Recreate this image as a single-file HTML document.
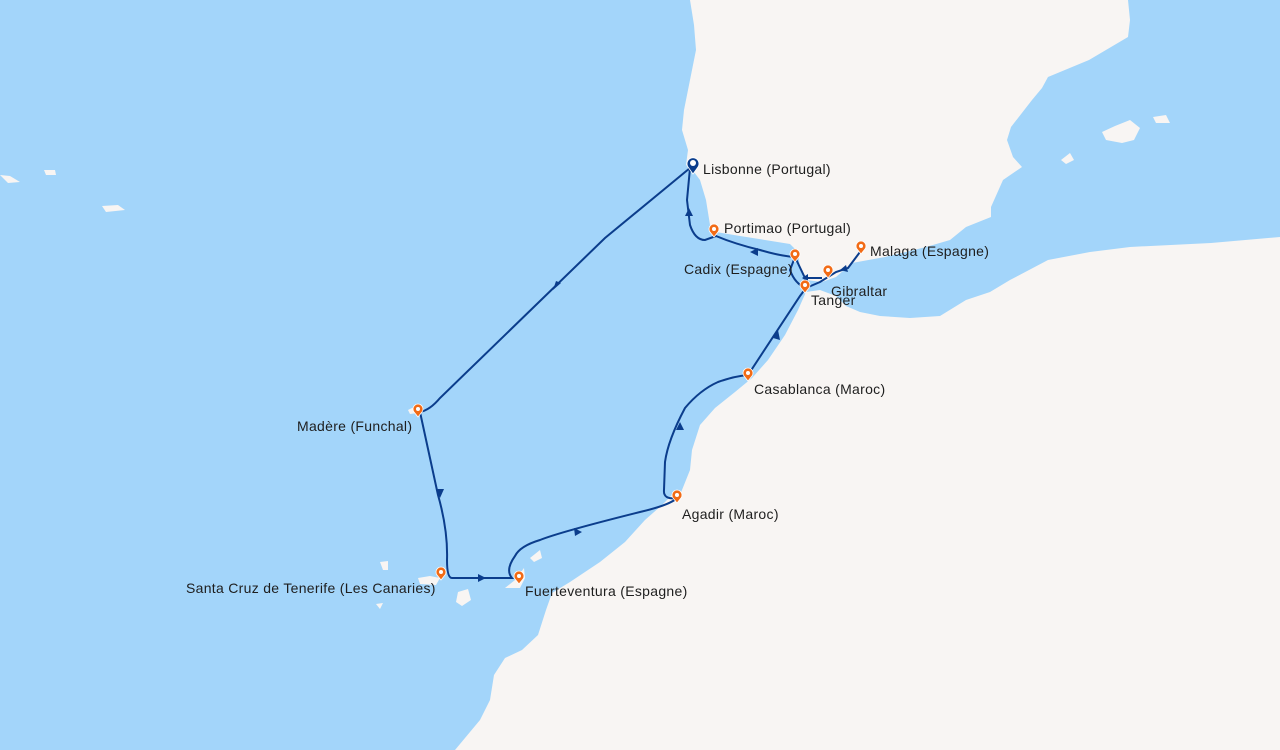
<!DOCTYPE html>
<html><head><meta charset="utf-8"><style>
html,body{margin:0;padding:0;width:1280px;height:750px;overflow:hidden;background:#a3d5fa}
svg{display:block}
text{font-family:"Liberation Sans",sans-serif;font-size:14px;fill:#1e1e1e;letter-spacing:0.3px}
</style></head><body>
<svg width="1280" height="750" viewBox="0 0 1280 750">
<rect width="1280" height="750" fill="#a3d5fa"/>
<!-- Iberia -->
<path fill="#f8f5f3" d="M690,0 L694,25 L696,50 L690,80 L684,110 L682,130 L688,150 L686,165 L694,172 L700,180 L706,200 L710,225 L716,232 L740,236 L765,240 L790,244 L798,252 L800,268 L806,280 L822,282 L836,277 L852,263 L885,257 L926,247 L950,240 L966,227 L991,217 L991,207 L1003,180 L1022,167 L1013,157 L1007,140 L1011,127 L1032,100 L1042,88 L1048,77 L1089,60 L1128,37 L1130,20 L1128,0 Z"/>
<!-- Africa -->
<path fill="#f8f5f3" d="M455,750 L480,720 L490,700 L494,675 L505,658 L522,650 L538,635 L546,610 L552,593 L570,582 L600,562 L625,542 L645,520 L662,505 L672,495 L680,495 L690,470 L692,450 L700,425 L715,408 L735,392 L752,378 L768,360 L785,335 L798,310 L806,292 L820,290 L836,296 L846,306 L860,312 L880,316 L910,318 L940,316 L966,300 L990,292 L1010,280 L1048,260 L1090,252 L1130,247 L1211,243 L1280,237 L1280,750 Z"/>
<!-- Balearics -->
<path fill="#f8f5f3" d="M1102,132 L1115,126 L1130,120 L1140,128 L1134,140 L1122,143 L1106,140 Z"/>
<path fill="#f8f5f3" d="M1153,117 L1166,115 L1170,123 L1156,123 Z"/>
<path fill="#f8f5f3" d="M1061,160 L1070,153 L1074,160 L1066,164 Z"/>
<!-- Atlantic islands -->
<path fill="#f8f5f3" d="M102,206 L118,205 L125,210 L106,212 Z"/>
<path fill="#f8f5f3" d="M0,175 L10,176 L20,182 L8,183 Z"/>
<path fill="#f8f5f3" d="M44,170 L55,170 L56,175 L46,175 Z"/>
<path fill="#f8f5f3" d="M408,410 L416,406 L418,413 L410,414 Z"/>
<path fill="#f8f5f3" d="M418,578 L430,576 L440,578 L436,585 L420,584 Z"/>
<path fill="#f8f5f3" d="M458,592 L468,589 L471,600 L462,606 L456,602 Z"/>
<path fill="#f8f5f3" d="M380,562 L388,561 L388,570 L383,570 Z"/>
<path fill="#f8f5f3" d="M376,604 L383,603 L380,609 Z"/>
<path fill="#f8f5f3" d="M505,588 L515,580 L524,568 L525,578 L520,588 Z"/>
<path fill="#f8f5f3" d="M530,558 L540,550 L542,558 L534,562 Z"/>
<!-- Route -->
<g fill="none" stroke="#0b3d8c" stroke-width="2">
<path d="M690,168 L605,238 L440,398 Q430,410 420,412 L438,495 Q448,530 447,560 Q447,578 452,578 L512,578 Q505,570 515,556 Q520,546 540,540 Q560,532 640,512 Q670,505 677,498 Q663,500 664,490 L665,462 Q668,440 685,408 Q700,390 718,382 Q735,376 748,375 L800,296 L806,288 Q795,284 790,270 L795,257 Q780,256 760,250 Q735,244 716,236 L705,240 Q695,240 690,225 L687,200 L690,168"/>
<path d="M806,288 L820,282 L836,272 L848,268 L860,252"/>
<path d="M795,257 L805,278 L822,278"/>
</g>
<g fill="#0b3d8c">
<polygon points="553,290 561,283 556,281"/>
<polygon points="440,498 436,489 444,489"/>
<polygon points="486,578 478,574 478,582"/>
<polygon points="582,532 574,528 575,536"/>
<polygon points="680,422 676,430 684,430"/>
<polygon points="778,330 773,338 780,340"/>
<polygon points="750,252 758,248 758,256"/>
<polygon points="689,208 685,216 693,216"/>
<polygon points="846,265 840,270 848,272"/>
<polygon points="802,278 808,274 808,282"/>
</g>
<!-- Markers -->
<g fill="#f26b16" stroke="#fff" stroke-width="0.8">
<g transform="translate(418,411)"><path d="M0,6 L-4,1 A5,5 0 1 1 4,1 Z"/><circle cy="-2" r="2" fill="#fff" stroke="none"/></g>
<g transform="translate(441,574)"><path d="M0,6 L-4,1 A5,5 0 1 1 4,1 Z"/><circle cy="-2" r="2" fill="#fff" stroke="none"/></g>
<g transform="translate(519,578)"><path d="M0,6 L-4,1 A5,5 0 1 1 4,1 Z"/><circle cy="-2" r="2" fill="#fff" stroke="none"/></g>
<g transform="translate(677,497)"><path d="M0,6 L-4,1 A5,5 0 1 1 4,1 Z"/><circle cy="-2" r="2" fill="#fff" stroke="none"/></g>
<g transform="translate(748,375)"><path d="M0,6 L-4,1 A5,5 0 1 1 4,1 Z"/><circle cy="-2" r="2" fill="#fff" stroke="none"/></g>
<g transform="translate(805,287)"><path d="M0,6 L-4,1 A5,5 0 1 1 4,1 Z"/><circle cy="-2" r="2" fill="#fff" stroke="none"/></g>
<g transform="translate(828,272)"><path d="M0,6 L-4,1 A5,5 0 1 1 4,1 Z"/><circle cy="-2" r="2" fill="#fff" stroke="none"/></g>
<g transform="translate(861,248)"><path d="M0,6 L-4,1 A5,5 0 1 1 4,1 Z"/><circle cy="-2" r="2" fill="#fff" stroke="none"/></g>
<g transform="translate(795,256)"><path d="M0,6 L-4,1 A5,5 0 1 1 4,1 Z"/><circle cy="-2" r="2" fill="#fff" stroke="none"/></g>
<g transform="translate(714,231)"><path d="M0,6 L-4,1 A5,5 0 1 1 4,1 Z"/><circle cy="-2" r="2" fill="#fff" stroke="none"/></g>
<g transform="translate(693,165)" fill="#0b3d8c"><path d="M0,9 L-5,2 A6,6 0 1 1 5,2 Z"/><circle cy="-2" r="3" fill="#fff" stroke="none"/></g>
</g>
<!-- Labels -->
<text x="703" y="174">Lisbonne (Portugal)</text>
<text x="724" y="233">Portimao (Portugal)</text>
<text x="684" y="274">Cadix (Espagne)</text>
<text x="870" y="256">Malaga (Espagne)</text>
<text x="831" y="296">Gibraltar</text>
<text x="811" y="305">Tanger</text>
<text x="754" y="394">Casablanca (Maroc)</text>
<text x="297" y="431">Madère (Funchal)</text>
<text x="682" y="519">Agadir (Maroc)</text>
<text x="186" y="593">Santa Cruz de Tenerife (Les Canaries)</text>
<text x="525" y="596">Fuerteventura (Espagne)</text>
</svg>
</body></html>
